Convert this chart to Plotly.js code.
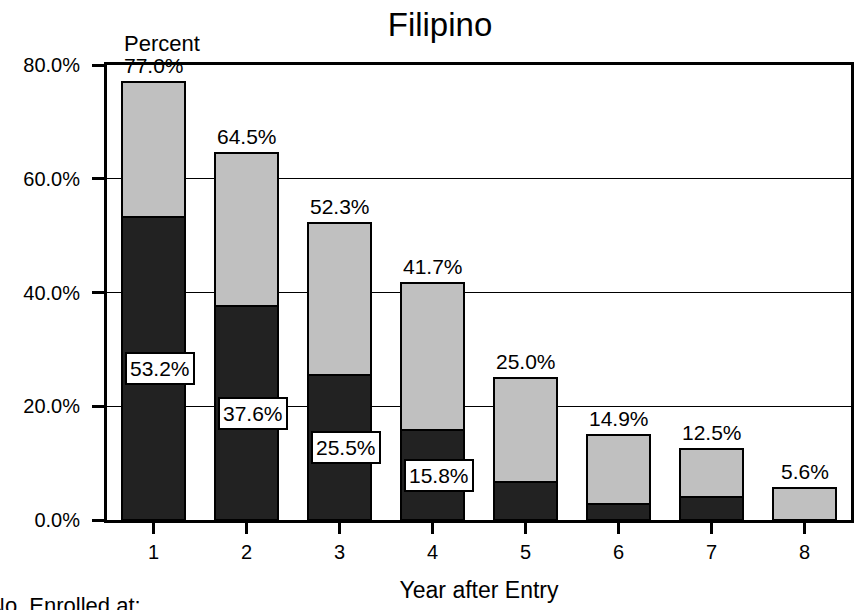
<!DOCTYPE html>
<html>
<head>
<meta charset="utf-8">
<script src="https://cdn.plot.ly/plotly-3.0.1.min.js"></script>
<style>html,body{margin:0;padding:0;background:#fff;}#chart{width:854px;height:610px;}</style>
</head>
<body>
<div id="chart"></div>
<script>
var years = ['1','2','3','4','5','6','7','8'];
var totalPct = [77.0, 64.5, 52.3, 41.7, 25.0, 14.9, 12.5, 5.6];
var darkPct = [53.2, 37.6, 25.5, 15.8, 6.7, 2.9, 4.1, 0.0];
var darkLabeled = [true, true, true, true, false, false, false, false];
var yTicks = [0, 20, 40, 60, 80];
var yTickText = ['0.0%', '20.0%', '40.0%', '60.0%', '80.0%'];

var FONT = 'Liberation Sans, Arial, Helvetica, sans-serif';
var lightPct = totalPct.map(function(t, i){ return +(t - darkPct[i]).toFixed(1); });

var traces = [
  {type:'bar', x: years, y: darkPct, name:'dark',
   marker:{color:'#222222', line:{color:'#000', width:2}}, hoverinfo:'y'},
  {type:'bar', x: years, y: lightPct, name:'light',
   marker:{color:'#c0c0c0', line:{color:'#000', width:2}}, hoverinfo:'y'}
];

var annotations = [];
years.forEach(function(yr, i){
  annotations.push({x: i, y: totalPct[i], xref:'x', yref:'y', text: totalPct[i].toFixed(1) + '%',
    showarrow:false, yanchor:'bottom', yshift:3, font:{family:FONT, size:21, color:'#000'}});
  if (darkLabeled[i]) {
    annotations.push({x: i, y: darkPct[i]/2, xref:'x', yref:'y', text: darkPct[i].toFixed(1) + '%',
      showarrow:false, xshift:6, bgcolor:'#fff', bordercolor:'#000', borderwidth:2, borderpad:3,
      font:{family:FONT, size:21, color:'#000'}});
  }
});
annotations.push({xref:'paper', yref:'paper', x: (162 - 107)/744.5, xanchor:'center', y: 1, yanchor:'bottom', yshift:7,
  text:'Percent', showarrow:false, font:{family:FONT, size:22, color:'#000'}});
annotations.push({xref:'paper', yref:'paper', x: (-13 - 107)/744.5, xanchor:'left', y: -85/455, yanchor:'middle',
  text:'No. Enrolled at:', showarrow:false, font:{family:FONT, size:22, color:'#000'}});

var layout = {
  width:854, height:610,
  margin:{l:107, r:2.5, t:65, b:90},
  paper_bgcolor:'#fff', plot_bgcolor:'#fff',
  barmode:'stack', bargap:0.333,
  showlegend:false,
  title:{text:'Filipino', x:440/854, xref:'container', xanchor:'center', y:1-24/610, yref:'container', yanchor:'middle',
    font:{family:FONT, size:33, color:'#000'}},
  xaxis:{type:'category', range:[-0.5, 7.5], showline:true, linecolor:'#000', linewidth:3, mirror:true,
    ticks:'outside', ticklen:11, tickwidth:3, tickcolor:'#000', showgrid:false, zeroline:false,
    ticklabelstandoff:1,
    tickfont:{family:FONT, size:20, color:'#000'},
    title:{text:'Year after Entry', standoff:20, font:{family:FONT, size:23, color:'#000'}}},
  yaxis:{range:[0, 80], tickvals:yTicks, ticktext:yTickText, showline:true, linecolor:'#000', linewidth:3, mirror:true,
    ticks:'outside', ticklen:12, tickwidth:3, tickcolor:'#000', showgrid:true, gridcolor:'#000', gridwidth:1,
    zeroline:false, ticklabelstandoff:8,
    tickfont:{family:FONT, size:20, color:'#000'}},
  annotations: annotations
};

Plotly.newPlot('chart', traces, layout, {staticPlot:true, displayModeBar:false});
</script>
</body>
</html>
